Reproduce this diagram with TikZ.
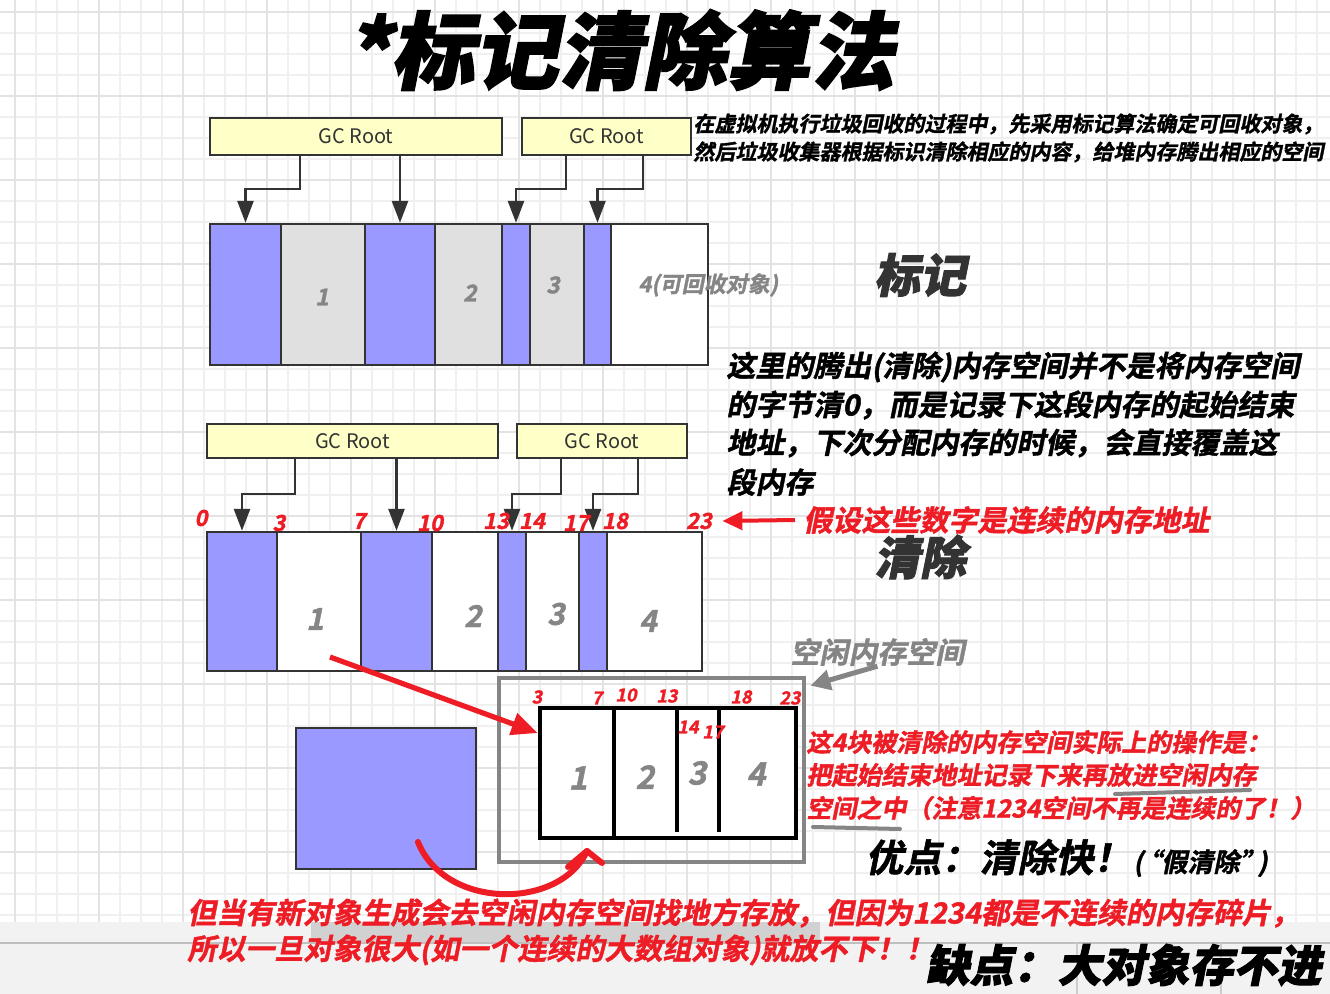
\documentclass[tikz,border=0pt]{standalone}
\usepackage{fontspec}
\usetikzlibrary{arrows.meta,positioning,fit}
\newfontfamily\cjk{Noto Sans CJK SC}
\newfontfamily\cjkbi[FakeSlant=0.2,FakeBold=1.5]{Noto Sans CJK SC Bold}
\newfontfamily\cjkhv[FakeSlant=0.2,FakeBold=2]{Noto Sans CJK SC Black}
\definecolor{Live}{HTML}{9999FF}
\definecolor{Dead}{HTML}{E0E0E0}
\definecolor{RootFill}{HTML}{FFFFC8}
\definecolor{Ink}{HTML}{333333}
\definecolor{Mark}{HTML}{EE1C25}
\definecolor{Dim}{HTML}{858585}
\definecolor{GridMin}{HTML}{F0F0F0}
\definecolor{GridMaj}{HTML}{E3E3E3}
\definecolor{Band}{HTML}{F2F2F2}
\tikzset{
  gridmin/.style={draw=GridMin,line width=.6pt},
  gridmaj/.style={draw=GridMaj,line width=.9pt},
  root/.style={draw=Ink,line width=1pt,fill=RootFill,inner sep=0pt,text=Ink,font=\cjk\fontsize{10}{12}\selectfont},
  blk/.style={draw=Ink,line width=1.2pt,inner sep=0pt},
  live/.style={blk,fill=Live},
  dead/.style={blk,fill=Dead},
  freed/.style={blk,fill=white},
  ptr/.style={-{Triangle[length=11pt,width=8pt]},draw=Ink,line width=1.4pt},
  hint/.style={-{Triangle[length=10pt,width=10pt]},draw=Dim,line width=2.5pt},
  move/.style={-{Triangle[length=13pt,width=11pt]},draw=Mark,line width=2.6pt},
  pointer/.style={-{Triangle[length=10pt,width=9pt]},draw=Mark,line width=2pt},
  scrawl/.style={draw=Mark,line width=3pt,line cap=round,line join=round},
  stroke/.style={draw=Dim,line width=2pt,line cap=round},
  title/.style={font=\cjkhv\fontsize{42}{46}\selectfont,inner sep=0pt},
  phase/.style={font=\cjkhv\fontsize{23}{26}\selectfont,text=Ink,inner sep=0pt},
  note/.style={anchor=west,inner sep=0pt,font=\cjkbi\fontsize{14.5}{17}\selectfont},
  smallnote/.style={note,font=\cjkbi\fontsize{10.5}{12}\selectfont},
  rednote/.style={note,text=Mark},
  boxnote/.style={rednote,font=\cjkbi\fontsize{12.5}{15}\selectfont},
  addr/.style={inner sep=0pt,text=Mark,font=\cjkbi\fontsize{11}{13}\selectfont},
  faddr/.style={addr,font=\cjkbi\fontsize{9}{10}\selectfont},
  idx/.style={inner sep=0pt,text=Dim,font=\cjkbi\fontsize{15}{18}\selectfont},
  idxs/.style={idx,font=\cjkbi\fontsize{11.5}{14}\selectfont}
}
\begin{document}
\begin{tikzpicture}[x=0.5pt,y=-0.5pt]
  \useasboundingbox (0,0) rectangle (1330,994);
  \fill[white] (0,0) rectangle (1330,994);
  % background grid
  \foreach \gx in {15,36,...,1330} \draw[gridmin] (\gx,0) -- (\gx,994);
  \foreach \gy in {12,33,...,994} \draw[gridmin] (0,\gy) -- (1330,\gy);
  \foreach \gx in {15,99,...,1330} \draw[gridmaj] (\gx,0) -- (\gx,994);
  \foreach \gy in {12,96,...,994} \draw[gridmaj] (0,\gy) -- (1330,\gy);
  % bottom band of the screen capture
  \fill[Band] (0,922) rectangle (1330,994);
  \fill[black!18] (311,922) rectangle (820,943);
  \draw[black!25,line width=1pt] (0,943) -- (1330,943);
  \draw[black!20,line width=.8pt] (1077,943) -- (1077,994) (1221,943) -- (1221,994);

  \node[title] (ttl) at (620,50) {*标记清除算法};

  % mark phase
  \node[root,minimum width=146pt,minimum height=18.5pt] (ra) at (356,136.5) {GC Root};
  \node[root,minimum width=84.5pt,minimum height=18.5pt] (rb) at (606.5,136.5) {GC Root};
  \node[live,fit={(210,224)(281,365)}] (m1) {};
  \node[dead,fit={(281,224)(365,365)}] (m2) {};
  \node[live,fit={(365,224)(435,365)}] (m3) {};
  \node[dead,fit={(435,224)(502,365)}] (m4) {};
  \node[live,fit={(502,224)(530,365)}] (m5) {};
  \node[dead,fit={(530,224)(584,365)}] (m6) {};
  \node[live,fit={(584,224)(611,365)}] (m7) {};
  \node[freed,fit={(611,224)(708,365)}] (m8) {};
  \node[idxs] (m2l) at (322,297) {1};
  \node[idxs] (m4l) at (470,293) {2};
  \node[idxs] (m6l) at (553,285) {3};
  \node[idxs,anchor=west,font=\cjkbi\fontsize{11}{13}\selectfont] (m8l) at (638,285) {4(可回收对象)};
  \draw[ptr] (ra.south -| 300,0) -- ++(0,33) -| (m1.north);
  \draw[ptr] (ra.south -| m3.north) -- (m3.north);
  \draw[ptr] (rb.south -| 566,0) -- ++(0,33) -| (m5.north);
  \draw[ptr] (rb.south -| 643,0) -- ++(0,33) -| (m7.north);
  \node[smallnote] (why1) at (693,124) {在虚拟机执行垃圾回收的过程中，先采用标记算法确定可回收对象，};
  \node[smallnote] (why2) at (693,152) {然后垃圾收集器根据标识清除相应的内容，给堆内存腾出相应的空间};
  \node[phase] (phm) at (920,275) {标记};

  % sweep phase
  \node[root,minimum width=145.5pt,minimum height=17pt] (rc) at (352.5,441) {GC Root};
  \node[root,minimum width=85pt,minimum height=17pt] (rd) at (602,441) {GC Root};
  \node[live,fit={(207,532)(277,671)}] (s1) {};
  \node[freed,fit={(277,532)(361,671)}] (s2) {};
  \node[live,fit={(361,532)(432,671)}] (s3) {};
  \node[freed,fit={(432,532)(498,671)}] (s4) {};
  \node[live,fit={(498,532)(526,671)}] (s5) {};
  \node[freed,fit={(526,532)(579,671)}] (s6) {};
  \node[live,fit={(579,532)(607,671)}] (s7) {};
  \node[freed,fit={(607,532)(702,671)}] (s8) {};
  \node[idx] (s2l) at (315,619) {1};
  \node[idx] (s4l) at (473,616) {2};
  \node[idx] (s6l) at (556,614) {3};
  \node[idx] (s8l) at (648,621) {4};
  \draw[ptr] (rc.south -| 295,0) -- ++(0,35) -| (s1.north);
  \draw[ptr] (rc.south -| s3.north) -- (s3.north);
  \draw[ptr] (rd.south -| 561,0) -- ++(0,35) -| (s5.north);
  \draw[ptr] (rd.south -| 638,0) -- ++(0,35) -| (s7.north);
  \node[addr] (a0) at (201,518) {0};
  \node[addr] (a3) at (279,523) {3};
  \node[addr] (a7) at (359,521) {7};
  \node[addr] (a10) at (430,523) {10};
  \node[addr] (a13) at (496,521) {13};
  \node[addr] (a14) at (532,521) {14};
  \node[addr] (a17) at (576,523) {17};
  \node[addr] (a18) at (615,521) {18};
  \node[addr] (a23) at (699,521) {23};
  \node[rednote] (assume) at (803,520) {假设这些数字是连续的内存地址};
  \draw[pointer] ([xshift=-4pt]assume.west) -- ([xshift=5pt]a23.east);
  \node[note] (exp1) at (726,367) {这里的腾出(清除)内存空间并不是将内存空间};
  \node[note] (exp2) at (726,405) {的字节清0，而是记录下这段内存的起始结束};
  \node[note] (exp3) at (726,443) {地址，下次分配内存的时候，会直接覆盖这};
  \node[note] (exp4) at (726,482) {段内存};
  \node[phase] (phs) at (920,557) {清除};

  % free list
  \node[draw=Dim,line width=2.4pt,inner sep=0pt,fit={(499,678)(804,862)}] (fl) {};
  \node[draw=black,line width=2.4pt,fill=white,inner sep=0pt,fit={(540,708)(796,838)}] (fb) {};
  \draw[black,line width=2pt] (fb.north -| 614,0) -- (fb.south -| 614,0);
  \draw[black,line width=2pt] (fb.north -| 677,0) -- (677,832);
  \draw[black,line width=2pt] (fb.north -| 719,0) -- (719,832);
  \node[idx,font=\cjkbi\fontsize{16}{18}\selectfont] (f1) at (578,778) {1};
  \node[idx,font=\cjkbi\fontsize{16}{18}\selectfont] (f2) at (645,777) {2};
  \node[idx,font=\cjkbi\fontsize{16}{18}\selectfont] (f3) at (697,773) {3};
  \node[idx,font=\cjkbi\fontsize{16}{18}\selectfont] (f4) at (756,774) {4};
  \node[faddr] (b3) at (537,697) {3};
  \node[faddr] (b7) at (597,698) {7};
  \node[faddr] (b10) at (626,695) {10};
  \node[faddr] (b13) at (667,696) {13};
  \node[faddr] (b18) at (741,697) {18};
  \node[faddr] (b23) at (790,698) {23};
  \node[faddr] (b14) at (688,727) {14};
  \node[faddr] (b17) at (713,732) {17};
  \node[note,text=Dim] (freelbl) at (790,652) {空闲内存空间};
  \draw[hint] (freelbl.south) -- ([xshift=2pt,yshift=-5pt]fl.north east);
  \coordinate (grab) at (330,657);
  \draw[move] (grab) -- ([yshift=20pt]fb.west);
  \node[boxnote] (op1) at (806,742) {这4块被清除的内存空间实际上的操作是：};
  \node[boxnote] (op2) at (806,775) {把起始结束地址记录下来再放进空闲内存};
  \node[boxnote] (op3) at (806,808) {空间之中（注意1234空间不再是连续的了！）};
  \draw[stroke] (1115,794) -- (1250,790);
  \draw[stroke] (813,827) -- (900,829);
  \node[note] (pro) at (865,858) {{\fontsize{19}{22}\selectfont 优点：清除快！}\hspace{1pt}{\fontsize{13}{15}\selectfont(\kern-.3em“假清除”\kern-.3em)}};

  % new large object
  \node[live,fit={(296,728)(476,869)}] (nobj) {};
  \coordinate (hand) at (418,842);
  \coordinate (drop) at (587,851);
  \draw[scrawl] (hand) .. controls (445,910) and (560,910) .. (drop);
  \draw[scrawl] (drop) ++(-19,16) -- (drop) -- ++(15,12);
  \node[rednote] (con1) at (187,913) {但当有新对象生成会去空闲内存空间找地方存放，但因为1234都是不连续的内存碎片，};
  \node[rednote] (con2) at (187,950) {所以一旦对象很大(如一个连续的大数组对象)就放不下！！};
  \node[note,font=\cjkhv\fontsize{22}{24}\selectfont] (con) at (925,965) {缺点：大对象存不进};
\end{tikzpicture}
\end{document}
